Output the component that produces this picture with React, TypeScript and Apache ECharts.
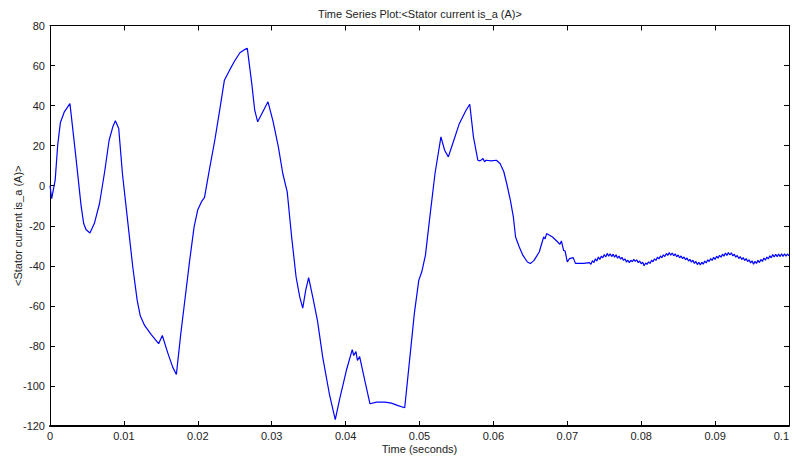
import React, { useEffect, useRef } from "react";
import * as echarts from "echarts";

const titleText = "Time Series Plot:<Stator current is_a (A)>";
const xName = "Time (seconds)";
const yName = "<Stator current is_a (A)>";

const xMin = 0;
const xMax = 0.1;
const xStep = 0.01;
const yMin = -120;
const yMax = 80;
const yStep = 20;

// transient part: [time (s), current (A)]
const transient: [number, number][] = [
  [0, 0], [0.00023, -6.5], [0.0007, 2.8], [0.00104, 20.2], [0.0014, 31.4], [0.00194, 36.9],
  [0.0027, 41], [0.0035, 14.4], [0.0042, -9.8], [0.00456, -18.9], [0.00487, -21.9], [0.0054, -23.6],
  [0.006, -18.9], [0.0067, -8.9], [0.0074, 7.1], [0.008, 22.7], [0.0085, 29.4], [0.00885, 32.4],
  [0.0093, 28.6], [0.0098, 6.1], [0.0105, -17.3], [0.0112, -40.6], [0.0118, -57.3], [0.0122, -64.8],
  [0.0128, -69.8], [0.0137, -74.4], [0.0147, -78.9], [0.0152, -74.8], [0.0159, -83.1], [0.0166, -90.6],
  [0.0171, -94.3], [0.0177, -73.9], [0.0183, -55.6], [0.0189, -37.3], [0.0195, -20.6], [0.02, -12],
  [0.0205, -8], [0.0209, -6], [0.0216, 8.6], [0.0223, 22.7], [0.023, 38.6], [0.0236, 52.7],
  [0.0243, 57.7], [0.025, 62.4], [0.0257, 66.4], [0.0264, 68.1], [0.0267, 68.6], [0.0273, 51.1],
  [0.0277, 37.7], [0.0281, 31.9], [0.0288, 36.9], [0.0295, 41.9], [0.0302, 31.9], [0.0309, 19.4],
  [0.0315, 6.1], [0.0321, -3.1], [0.0327, -25.6], [0.0333, -45.6], [0.0338, -55.6], [0.0342, -61.1],
  [0.0346, -52.3], [0.035, -45.9], [0.0356, -56.4], [0.0362, -67.5], [0.0369, -85.6], [0.0378, -103.9],
  [0.0386, -116.8], [0.0392, -106.4], [0.0401, -92.3], [0.0409, -81.9], [0.0411, -84.8], [0.0414, -82.8],
  [0.0416, -87.3], [0.0419, -85.3], [0.0426, -97.3], [0.0433, -108.9], [0.0442, -108.1], [0.0453, -108.1],
  [0.0462, -108.6], [0.0471, -109.8], [0.048, -110.9], [0.0487, -85.6], [0.0493, -63.9], [0.0499, -47.3],
  [0.0503, -43.1], [0.0508, -34.8], [0.0514, -15.6], [0.0521, 6.1], [0.0529, 24.4], [0.0534, 17.7],
  [0.0539, 14.4], [0.0545, 21.1], [0.0554, 31.1], [0.0563, 37.7], [0.0568, 40.7], [0.0573, 24.4],
  [0.0579, 12.7], [0.0582, 12.4], [0.0586, 13.6], [0.0588, 11.9], [0.059, 12.7], [0.0597, 12.4],
  [0.0604, 12.7], [0.0609, 11.1], [0.0614, 7.1], [0.0618, 1.1], [0.0623, -7.3], [0.0627, -15.6],
  [0.063, -25.6], [0.0635, -30.6], [0.064, -34.8], [0.0646, -38.1], [0.065, -38.9], [0.0655, -37.3],
  [0.0662, -33.1], [0.0668, -25.6], [0.067, -26.5], [0.0672, -23.9], [0.068, -25.6], [0.0687, -28.1],
  [0.069, -29.3], [0.0692, -27.6], [0.0695, -32.3], [0.0697, -32.6], [0.07, -38.1], [0.0703, -36.4],
  [0.0708, -35.9], [0.0711, -38.8], [0.0722, -38.8],
];

// steady-state part with ripple: [time (s), current (A)]
const steady: [number, number][] = [
  [0.073, -38.4], [0.0732, -39.3], [0.0734, -37.4], [0.0736, -38.4], [0.0738, -36.5], [0.074, -37.6],
  [0.0742, -35.6], [0.0744, -36.8], [0.0746, -35.2], [0.0748, -36.0], [0.075, -34.4], [0.0752, -35.6],
  [0.0754, -33.8], [0.0756, -35.2], [0.0758, -34.0], [0.076, -35.4], [0.0762, -34.2], [0.0764, -35.7],
  [0.0766, -34.5], [0.0768, -36.2], [0.077, -35.1], [0.0772, -36.6], [0.0774, -35.8], [0.0776, -37.3],
  [0.0778, -36.5], [0.078, -38.1], [0.0782, -37.2], [0.0784, -38.4], [0.0786, -37.2], [0.0788, -38.0],
  [0.079, -36.8], [0.0792, -37.8], [0.0794, -37.0], [0.0796, -38.4], [0.0798, -37.6], [0.08, -39.0],
  [0.0802, -38.2], [0.0804, -40.0], [0.0806, -38.6], [0.0808, -39.3], [0.081, -38.0], [0.0812, -38.8],
  [0.0814, -37.2], [0.0816, -38.0], [0.0818, -36.5], [0.082, -37.3], [0.0822, -35.7], [0.0824, -36.6],
  [0.0826, -35.1], [0.0828, -36.0], [0.083, -34.5], [0.0832, -35.4], [0.0834, -33.8], [0.0836, -34.8],
  [0.0838, -33.4], [0.084, -34.7], [0.0842, -33.6], [0.0844, -35.0], [0.0846, -34.0], [0.0848, -35.5],
  [0.085, -34.6], [0.0852, -36.0], [0.0854, -35.1], [0.0856, -36.4], [0.0858, -35.6], [0.086, -37.0],
  [0.0862, -36.1], [0.0864, -37.6], [0.0866, -36.8], [0.0868, -38.2], [0.087, -37.2], [0.0872, -38.8],
  [0.0874, -37.8], [0.0876, -39.4], [0.0878, -38.2], [0.088, -39.6], [0.0882, -38.2], [0.0884, -39.2],
  [0.0886, -37.6], [0.0888, -38.6], [0.089, -37.0], [0.0892, -37.9], [0.0894, -36.4], [0.0896, -37.3],
  [0.0898, -35.8], [0.09, -36.8], [0.0902, -35.2], [0.0904, -36.2], [0.0906, -34.8], [0.0908, -35.7],
  [0.091, -34.2], [0.0912, -35.2], [0.0914, -33.6], [0.0916, -34.8], [0.0918, -33.4], [0.092, -34.6],
  [0.0922, -33.5], [0.0924, -35.1], [0.0926, -34.2], [0.0928, -35.7], [0.093, -34.8], [0.0932, -36.4],
  [0.0934, -35.4], [0.0936, -36.9], [0.0938, -35.9], [0.094, -37.4], [0.0942, -36.4], [0.0944, -37.9],
  [0.0946, -37.0], [0.0948, -38.6], [0.095, -37.5], [0.0952, -39.2], [0.0954, -37.8], [0.0956, -38.8],
  [0.0958, -37.2], [0.096, -38.4], [0.0962, -36.8], [0.0964, -37.8], [0.0966, -36.1], [0.0968, -37.2],
  [0.097, -35.6], [0.0972, -36.6], [0.0974, -35.0], [0.0976, -36.0], [0.0978, -34.4], [0.098, -35.6],
  [0.0982, -34.2], [0.0984, -35.5], [0.0986, -34.1], [0.0988, -35.4], [0.099, -34.0], [0.0992, -35.3],
  [0.0994, -34.0], [0.0996, -35.2], [0.0998, -34.1], [0.1, -35.0],
];

const FONT = "Liberation Sans, Arial, sans-serif";
const TXT = "#222";

export default function App() {
  const ref = useRef<HTMLDivElement>(null);
  useEffect(() => {
    if (!ref.current) return;
    const chart = echarts.init(ref.current, undefined, { renderer: "svg" });
    const fmtX = (v: number) => String(parseFloat(v.toFixed(3)));
    const tick = { show: true, inside: true, length: 5, lineStyle: { color: "#000" } };
    const line = (w: number) => ({ show: true, onZero: false, lineStyle: { color: "#000", width: w } });
    chart.setOption({
      animation: false,
      backgroundColor: "#fff",
      graphic: [
        {
          type: "text",
          x: 420,
          y: 14,
          style: {
            text: titleText,
            fontFamily: FONT,
            fontSize: 11,
            fill: TXT,
            textAlign: "center",
            textVerticalAlign: "middle",
          },
        },
      ],
      grid: {
        left: 50,
        right: 5,
        top: 25.5,
        bottom: 31,
        show: false,
        containLabel: false,
        outerBoundsMode: "none",
      },
      xAxis: [
        {
          type: "value",
          min: xMin,
          max: xMax,
          interval: xStep,
          position: "bottom",
          axisLine: line(2),
          axisTick: tick,
          splitLine: { show: false },
          axisLabel: {
            show: true,
            color: TXT,
            fontFamily: FONT,
            fontSize: 11,
            margin: 4,
            formatter: fmtX,
            alignMaxLabel: "right",
          },
          name: xName,
          nameLocation: "middle",
          nameGap: 17,
          nameMoveOverlap: false,
          nameTextStyle: { color: TXT, fontFamily: FONT, fontSize: 11, verticalAlign: "top" },
        },
        {
          type: "value",
          min: xMin,
          max: xMax,
          interval: xStep,
          position: "top",
          axisLine: line(1),
          axisTick: tick,
          splitLine: { show: false },
          axisLabel: { show: false },
        },
      ],
      yAxis: [
        {
          type: "value",
          min: yMin,
          max: yMax,
          interval: yStep,
          position: "left",
          axisLine: line(1),
          axisTick: tick,
          splitLine: { show: false },
          axisLabel: { show: true, color: TXT, fontFamily: FONT, fontSize: 11, margin: 5 },
          name: yName,
          nameLocation: "middle",
          nameGap: 27,
          nameMoveOverlap: false,
          nameTextStyle: { color: TXT, fontFamily: FONT, fontSize: 11 },
        },
        {
          type: "value",
          min: yMin,
          max: yMax,
          interval: yStep,
          position: "right",
          axisLine: line(1),
          axisTick: tick,
          splitLine: { show: false },
          axisLabel: { show: false },
        },
      ],
      series: [
        {
          type: "line",
          data: [...transient, ...steady],
          showSymbol: false,
          symbol: "none",
          lineStyle: { color: "#0000ff", width: 1.2 },
          xAxisIndex: 0,
          yAxisIndex: 0,
        },
      ],
    });
    return () => chart.dispose();
  }, []);
  return (
    <div
      ref={ref}
      style={{ position: "fixed", left: 0, top: 0, width: 794, height: 457, background: "#fff" }}
    />
  );
}
